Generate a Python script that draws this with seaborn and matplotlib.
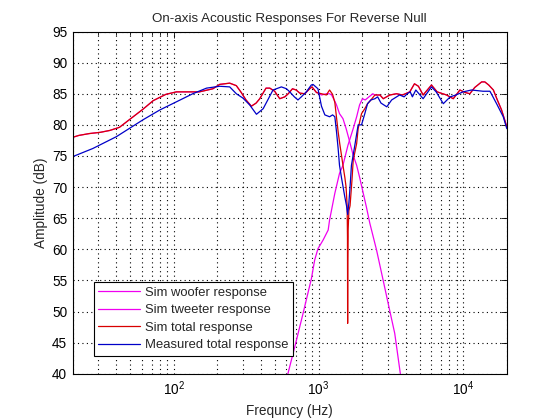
import numpy as np
import pandas as pd
import seaborn as sns
import matplotlib
matplotlib.use("Agg")
import matplotlib.pyplot as plt
from matplotlib.ticker import LogLocator, LogFormatterMathtext, NullFormatter, MultipleLocator

# ---------------- data ----------------
total_f = [20, 22, 26, 31, 36, 42, 49, 61, 72, 88, 104, 130, 150, 186, 207, 243, 270, 292,
           315, 343, 370, 392, 433, 460, 497, 539, 584, 617, 660, 700, 741, 802, 868, 900,
           967, 1047, 1131, 1191, 1250, 1295, 1330, 1365, 1400, 1440, 1474, 1520, 1549,
           1575, 1584, 1588, 1592, 1600, 1620, 1650, 1700, 1735, 1833, 1877, 1981, 2087,
           2180, 2300, 2451, 2654, 2800, 3110, 3460, 3800, 4270, 4600, 4900, 5280, 6030,
           6600, 7660, 8530, 9480, 10300, 11100, 12000, 13400, 14100, 15000, 16150, 17200,
           18400, 20000]
total_db = [78.0, 78.3, 78.6, 78.8, 79.1, 79.6, 80.8, 82.5, 83.9, 84.9, 85.3, 85.3, 85.3,
            85.8, 86.5, 86.7, 86.3, 85.2, 84.0, 83.0, 83.5, 84.2, 85.9, 85.9, 85.4, 84.2,
            84.5, 85.0, 85.8, 85.6, 85.1, 85.0, 85.8, 86.1, 85.2, 85.0, 84.8, 85.6, 84.9,
            83.6, 81.2, 78.9, 77.0, 75.1, 73.5, 71.5, 70.0, 67.0, 62.0, 48.1, 58.0, 63.0,
            66.2, 67.0, 71.0, 74.3, 77.0, 79.4, 81.8, 82.6, 83.4, 84.0, 84.8, 84.8, 84.2,
            84.8, 85.0, 84.8, 85.3, 86.6, 86.2, 84.8, 86.4, 85.3, 84.8, 84.2, 85.6, 85.2,
            85.0, 86.0, 86.9, 86.9, 86.4, 85.6, 84.0, 82.4, 79.7]

meas_f = [20, 27.5, 40, 61, 80, 104, 135, 168, 207, 243, 270, 300, 334, 372, 414, 450,
          484, 539, 553, 600, 632, 680, 720, 760, 823, 890, 915, 990, 1047, 1105, 1191,
          1250, 1295, 1330, 1365, 1395, 1440, 1516, 1560, 1590, 1620, 1650, 1687, 1780,
          1877, 1981, 2087, 2180, 2300, 2451, 2560, 2700, 2960, 3200, 3630, 3900, 4100,
          4300, 4450, 4700, 5280, 6030, 6500, 7280, 8120, 8900, 9980, 11400, 13700, 15300,
          17000, 18900, 20000]
meas_db = [74.9, 76.2, 78.1, 80.8, 82.4, 83.7, 85.0, 85.9, 86.2, 86.1, 85.0, 84.3, 83.2,
           81.7, 82.6, 84.2, 85.6, 86.0, 86.1, 85.8, 85.3, 84.5, 84.0, 84.5, 85.3, 86.4,
           86.5, 85.8, 83.0, 81.6, 81.3, 81.6, 81.3, 78.9, 76.2, 73.5, 71.5, 68.5, 67.0,
           65.6, 67.5, 70.0, 73.5, 76.7, 80.0, 80.0, 81.8, 83.4, 84.0, 84.2, 84.5, 83.5,
           82.9, 84.0, 84.8, 84.5, 85.0, 85.3, 84.5, 85.6, 84.2, 86.1, 85.3, 83.4, 84.5,
           84.8, 85.3, 85.6, 85.4, 85.4, 83.4, 81.3, 79.4]

woofer_f = [20, 22, 26, 31, 36, 42, 49, 61, 72, 88, 104, 130, 150, 186, 207, 243, 270, 292,
            315, 343, 370, 392, 433, 460, 497, 539, 584, 617, 660, 700, 741, 802, 868, 900,
            967, 1047, 1131, 1191, 1230, 1295, 1330, 1395, 1474, 1550, 1640, 1735, 1833,
            1920, 2140, 2260, 2515, 2790, 3100, 3360, 3670, 4000]
woofer_db = [78.0, 78.3, 78.6, 78.8, 79.1, 79.6, 80.8, 82.5, 83.9, 84.9, 85.3, 85.3, 85.3,
             85.8, 86.5, 86.7, 86.3, 85.2, 84.0, 83.0, 83.5, 84.2, 85.9, 85.9, 85.4, 84.2,
             84.5, 85.0, 85.8, 85.6, 85.1, 85.0, 85.8, 86.1, 85.2, 84.8, 85.0, 85.0, 84.8,
             83.8, 83.2, 81.8, 81.0, 79.4, 77.3, 75.1, 73.5, 71.6, 66.8, 64.2, 59.9, 55.1,
             50.2, 46.5, 40.1, 35.0]

tweeter_f = [560, 615, 684, 781, 892, 940, 990, 1075, 1165, 1191, 1295, 1395, 1474, 1595,
             1735, 1833, 1920, 2010, 2100, 2370, 2451, 2654, 2800, 3110, 3460, 3800, 4270,
             4600, 4900, 5280, 6030, 6600, 7660, 8530, 9480, 10300, 11100, 12000, 13400,
             14100, 15000, 16150, 17200, 18400, 20000]
tweeter_db = [36.0, 40.1, 44.3, 49.7, 55.3, 58.3, 60.1, 61.5, 63.1, 64.7, 69.0, 72.2, 73.5,
              76.7, 79.4, 81.3, 83.2, 84.2, 84.0, 85.0, 84.8, 84.8, 84.2, 84.8, 85.0, 84.8,
              85.3, 86.6, 86.2, 84.8, 86.4, 85.3, 84.8, 84.2, 85.6, 85.2, 85.0, 86.0, 86.9,
              86.9, 86.4, 85.6, 84.0, 82.4, 79.7]

series = [
    ("Sim woofer response", woofer_f, woofer_db, "#f000f0"),
    ("Sim tweeter response", tweeter_f, tweeter_db, "#f000f0"),
    ("Sim total response", total_f, total_db, "#d80000"),
    ("Measured total response", meas_f, meas_db, "#0000c8"),
]

title = "On-axis Acoustic Responses For Reverse Null"
xlabel = "Frequncy (Hz)"
ylabel = "Amplitude (dB)"

# ---------------- style ----------------
sns.set_style("white")
plt.rcParams["font.family"] = ["Liberation Sans", "DejaVu Sans"]
plt.rcParams["mathtext.fontset"] = "custom"
plt.rcParams["mathtext.rm"] = "Liberation Sans"
plt.rcParams["mathtext.it"] = "Liberation Sans"
plt.rcParams["mathtext.default"] = "regular"

fig = plt.figure(figsize=(5.6, 4.2), dpi=100, facecolor="white")
ax = fig.add_axes([0.13, 0.11, 0.775, 0.815])
ax.set_facecolor("white")

for label, f, db, col in series:
    df = pd.DataFrame({"f": f, "db": db})
    sns.lineplot(data=df, x="f", y="db", ax=ax, color=col, linewidth=0.9,
                 label=label, sort=False, estimator=None)

ax.set_xscale("log")
ax.set_xlim(20, 20000)
ax.set_ylim(40, 95)
ax.yaxis.set_major_locator(MultipleLocator(5))
ax.xaxis.set_major_locator(LogLocator(base=10))
ax.xaxis.set_major_formatter(LogFormatterMathtext())
ax.xaxis.set_minor_locator(LogLocator(base=10, subs=np.arange(2, 10)))
ax.xaxis.set_minor_formatter(NullFormatter())

grid_kw = dict(color="black", linestyle=(0, (1, 3)), linewidth=0.8)
ax.grid(True, which="major", axis="both", **grid_kw)
ax.grid(True, which="minor", axis="x", **grid_kw)
ax.set_axisbelow(True)

for s in ax.spines.values():
    s.set_visible(True)
    s.set_color("black")
    s.set_linewidth(0.8)

ax.tick_params(which="both", direction="in", top=True, right=True,
               colors="black", labelsize=9.8, width=0.6)
ax.tick_params(which="major", length=4, pad=4)
ax.tick_params(which="minor", length=2)

ax.set_title(title, fontsize=9.6, pad=7)
ax.set_xlabel(xlabel, fontsize=9.8, labelpad=4)
ax.set_ylabel(ylabel, fontsize=9.8, labelpad=3)

leg = ax.legend(loc="lower left", bbox_to_anchor=(0.048, 0.052), borderaxespad=0,
                fontsize=9.4, frameon=True, fancybox=False, shadow=False,
                framealpha=1, edgecolor="black", handlelength=3.2,
                handletextpad=0.35, labelspacing=0.42, borderpad=0.35)
leg.get_frame().set_linewidth(0.8)

fig.savefig("out.png", dpi=100, facecolor="white")
